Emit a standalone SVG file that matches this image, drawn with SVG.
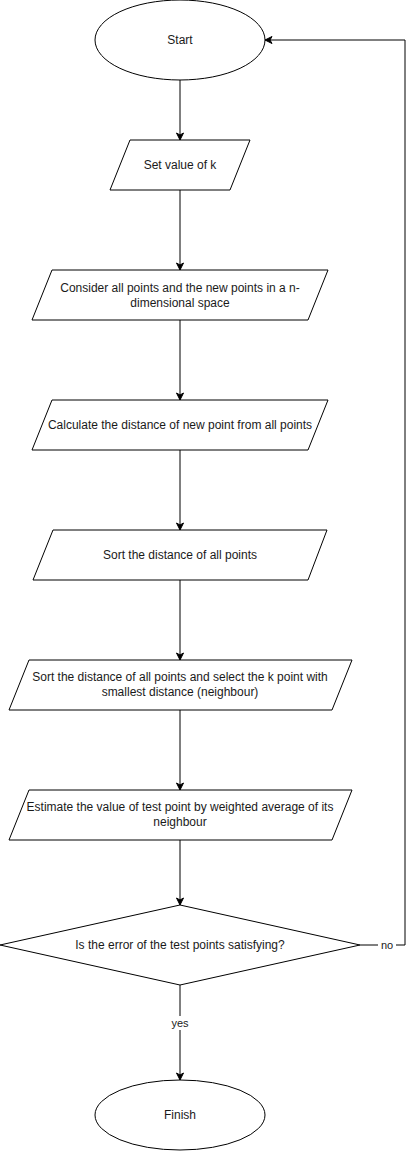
<svg xmlns="http://www.w3.org/2000/svg" width="414" height="1161" viewBox="0 0 414 1161">
<defs>
<marker id="arr" markerUnits="userSpaceOnUse" markerWidth="10" markerHeight="10" viewBox="-8 -5 10 10" refX="0" refY="0" orient="auto">
<path d="M0,0 L-7,-3.5 L-5,0 L-7,3.5 Z" fill="#000" stroke="#000" stroke-width="1"/>
</marker>
<style>
.s{fill:#fff;stroke:#000;stroke-width:1}
.t{font-family:"Liberation Sans",Arial,sans-serif;font-size:12px;fill:#1a1a1a;text-anchor:middle}
.e{fill:none;stroke:#000;stroke-width:1}
.lb{font-family:"Liberation Sans",Arial,sans-serif;font-size:11px;fill:#1a1a1a;text-anchor:middle}
</style>
</defs>
<rect width="414" height="1161" fill="#fff"/>
<g id="connectors">
<path class="e" d="M180,80 V140" marker-end="url(#arr)"/>
<path class="e" d="M180,190 V270" marker-end="url(#arr)"/>
<path class="e" d="M180,320 V400" marker-end="url(#arr)"/>
<path class="e" d="M180,450 V530" marker-end="url(#arr)"/>
<path class="e" d="M180,580 V660" marker-end="url(#arr)"/>
<path class="e" d="M180,710 V790" marker-end="url(#arr)"/>
<path class="e" d="M180,840 V905" marker-end="url(#arr)"/>
<path class="e" d="M180,985 V1080" marker-end="url(#arr)"/>
<path class="e" d="M360,945 H405 V40 H265" marker-end="url(#arr)"/>
<rect x="378" y="938" width="18" height="14" fill="#fff"/>
<text class="lb" x="387" y="949">no</text>
<rect x="169" y="1016" width="22" height="14" fill="#fff"/>
<text class="lb" x="180" y="1027">yes</text>
</g>
<g id="start">
<ellipse class="s" cx="180" cy="40" rx="85" ry="40"/>
<text class="t" x="180" y="44">Start</text>
</g>
<g id="setk">
<polygon class="s" points="130,140 250,140 230,190 110,190"/>
<text class="t" x="180" y="169">Set value of k</text>
</g>
<g id="consider">
<polygon class="s" points="52,270 328,270 308,320 32,320"/>
<text class="t" x="180" y="292">Consider all points and the new points in a n-</text>
<text class="t" x="180" y="307">dimensional space</text>
</g>
<g id="calculate">
<polygon class="s" points="52,400 328,400 308,450 32,450"/>
<text class="t" x="180" y="429">Calculate the distance of new point from all points</text>
</g>
<g id="sort">
<polygon class="s" points="53,530 327,530 308,580 33,580"/>
<text class="t" x="180" y="559">Sort the distance of all points</text>
</g>
<g id="select">
<polygon class="s" points="29,660 352,660 332,710 9,710"/>
<text class="t" x="180" y="681">Sort the distance of all points and select the k point with</text>
<text class="t" x="180" y="696">smallest distance (neighbour)</text>
</g>
<g id="estimate">
<polygon class="s" points="29,790 352,790 332,840 9,840"/>
<text class="t" x="180" y="811">Estimate the value of test point by weighted average of its</text>
<text class="t" x="180" y="826">neighbour</text>
</g>
<g id="decision">
<polygon class="s" points="180,905 360,945 180,985 0,945"/>
<text class="t" x="180" y="949">Is the error of the test points satisfying?</text>
</g>
<g id="finish">
<ellipse class="s" cx="180" cy="1115" rx="85" ry="35"/>
<text class="t" x="180" y="1119">Finish</text>
</g>
</svg>
